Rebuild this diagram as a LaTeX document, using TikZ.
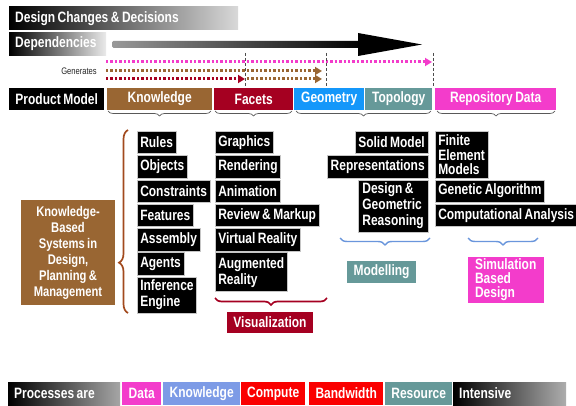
\documentclass[tikz,border=0pt]{standalone}
\usepackage{fontspec}
\setmainfont{Liberation Sans}[FakeStretch=0.8, WordSpace=0.75]
\usetikzlibrary{arrows.meta,decorations.pathreplacing}

\definecolor{kbrown}{HTML}{996633}
\definecolor{fred}{HTML}{A50021}
\definecolor{gblue}{HTML}{1497FA}
\definecolor{tteal}{HTML}{669999}
\definecolor{rmag}{HTML}{F33CCB}
\definecolor{kblue}{HTML}{7D9BE6}
\definecolor{cred}{HTML}{FA0000}
\definecolor{bblue}{HTML}{6A96DC}
\definecolor{sienna}{HTML}{A24A1E}

\newcommand\boxfont{\fontsize{15}{16}\selectfont\bfseries}

\begin{document}
\begin{tikzpicture}[x=1pt,y=-1pt,
  hdr/.style={font=\boxfont, text=white, minimum height=22pt, inner sep=0pt, anchor=west},
  bar/.style={minimum height=23pt, inner sep=0pt, anchor=west},
  barlabel/.style={font=\boxfont, text=white, inner sep=0pt, anchor=west},
  item/.style={fill=black, text=white, font=\boxfont, draw=gray!45, line width=0.5pt,
               inner xsep=3pt, inner ysep=0pt, minimum height=22.5pt, align=left},
  gen/.style={line width=3pt, dash pattern=on 2.4pt off 2pt},
  tip/.style={-{Triangle[length=7pt,width=8pt]}},
  hbrace/.style={draw=black!65, line width=0.7pt, decorate,
                 decoration={brace, mirror, amplitude=5pt}},
  cbrace/.style={line width=1.7pt, decorate, decoration={brace, mirror, amplitude=7pt}},
  guide/.style={densely dashed, draw=black!70, line width=0.6pt}]

\useasboundingbox[fill=white] (0,0) rectangle (576,406);

% ---- top bars ----
\node[bar, left color=black, right color=black!15, minimum width=229pt] (design) at (9,18.5) {};
\node[barlabel] (designlbl) at ([xshift=6pt]design.west) {Design Changes \& Decisions};
\node[bar, left color=black, right color=black!8, minimum width=97pt] (dep) at (9,44) {};
\node[barlabel] (deplbl) at ([xshift=6pt]dep.west) {Dependencies};

% dependency arrow
\coordinate (arrS) at (112,44.5);
\coordinate (arrE) at (422,44.5);
\shade[left color=black!40, right color=black, rounded corners=1.5pt] (112,41) rectangle (362,48);
\fill[black] (358,33) -- (arrE) -- (358,56) -- cycle;

% ---- generates lines ----
\node[font=\fontsize{9.5}{10}\selectfont, text=black!85, inner sep=0pt] (gentxt) at (79,71) {Generates};
\coordinate (g1s) at (106,62);  \coordinate (g1e) at (432,62);
\coordinate (g2s) at (106,71);  \coordinate (g2e) at (322,71);
\coordinate (g3s) at (106,79);  \coordinate (g3m) at (245,79);
\coordinate (g3n) at (247,79);  \coordinate (g3e) at (322,79);
\draw[gen, rmag, tip] (g1s) -- (g1e);
\draw[gen, kbrown, tip] (g2s) -- (g2e);
\draw[gen, kbrown, tip] (g3n) -- (g3e);
\draw[gen, fred, tip] (g3s) -- (g3m);

% ---- product model header ----
\node[hdr, fill=black, minimum width=95pt] (pm) at (9,99) {Product Model};
\node[hdr, fill=kbrown, minimum width=105pt] (hk) at (107,99) {Knowledge};
\node[hdr, fill=fred, minimum width=79pt] (hf) at (214,99) {Facets};
\node[hdr, fill=gblue, minimum width=70pt] (hg) at (294,99) {Geometry};
\node[hdr, fill=tteal, minimum width=67pt] (ht) at (365,99) {Topology};
\node[hdr, fill=rmag, minimum width=121pt] (hr) at (435,99) {Repository Data};

% phase markers
\coordinate (m1) at (245,53); \coordinate (m2) at (326,53); \coordinate (m3) at (433,53);
\draw[guide] (m1) -- (m1 |- hf.north);
\draw[guide] (m2) -- (m2 |- hg.north);
\draw[guide] (m3) -- (m3 |- hr.north);

% header braces
\draw[hbrace] (108,111) -- (211,111);
\draw[hbrace] (215,111) -- (292,111);
\draw[hbrace] (296,111) -- (431,111);
\draw[hbrace] (437,111) -- (555,111);

% ---- knowledge column ----
\node[item, anchor=north west] (rules) at (137,131) {Rules};
\node[item, anchor=north west] (objects) at (137,155.3) {Objects};
\node[item, anchor=north west] (constraints) at (137,179.6) {Constraints};
\node[item, anchor=north west] (features) at (137,203.9) {Features};
\node[item, anchor=north west] (assembly) at (137,228.2) {Assembly};
\node[item, anchor=north west] (agents) at (137,252.5) {Agents};
\node[item, anchor=north west, minimum height=36pt] (inference) at (137,276.8) {Inference\\Engine};

\draw[cbrace, sienna, decoration={amplitude=9pt, aspect=0.725}] (128,130) -- (128,313);

\node[fill=kbrown, text=white, font=\fontsize{14}{16}\selectfont\bfseries, align=center,
      minimum width=94pt, minimum height=105pt, inner sep=0pt] (kbs) at (68,252.5)
  {Knowledge-\\Based\\Systems in\\Design,\\Planning \&\\Management};

% ---- facets column ----
\node[item, anchor=north west] (graphics) at (215,131) {Graphics};
\node[item, anchor=north west] (rendering) at (215,155.3) {Rendering};
\node[item, anchor=north west] (animation) at (215,179.6) {Animation};
\node[item, anchor=north west] (review) at (215,203.9) {Review \& Markup};
\node[item, anchor=north west] (vr) at (215,228.2) {Virtual Reality};
\node[item, anchor=north west, minimum height=39pt] (ar) at (215,252.5) {Augmented\\Reality};

\draw[cbrace, fred] (215,298) -- (327,298);
\node[hdr, fill=fred, minimum width=86pt, minimum height=21pt, anchor=center] (vis) at (270,322.5) {Visualization};

% ---- geometry / topology column ----
\node[item, anchor=north east] (solid) at (428,131) {Solid Model};
\node[item, anchor=north east] (repr) at (428,155.3) {Representations};
\node[item, anchor=north east, minimum height=52.5pt, inner xsep=4pt] (dgr) at (428,179.6) {Design \&\\Geometric\\Reasoning};

\draw[cbrace, bblue, line width=1.4pt] (340,238) -- (430,238);
\node[hdr, fill=tteal, minimum width=69pt, anchor=center] (model) at (381.5,272) {Modelling};

% ---- repository column ----
\node[item, anchor=north west, minimum height=47pt, font=\fontsize{15}{14.5}\selectfont\bfseries] (fem) at (435,131) {Finite\\Element\\Models};
\node[item, anchor=north west] (ga) at (435,179.6) {Genetic Algorithm};
\node[item, anchor=north west] (ca) at (435,203.9) {Computational Analysis};

\draw[cbrace, bblue, line width=1.4pt] (468,238) -- (538,238);
\node[fill=rmag, text=white, font=\fontsize{15}{14}\selectfont\bfseries, align=left,
      text width=62pt, inner xsep=7pt, inner ysep=0pt, minimum height=46pt] (sbd) at (506,280)
  {Simulation\\Based\\Design};

% ---- bottom strip ----
\node[bar, left color=black, right color=black!35, minimum width=112pt] (proc) at (8,393.5) {};
\node[barlabel] (proclbl) at ([xshift=6pt]proc.west) {Processes are};
\node[hdr, fill=rmag, minimum width=39pt, minimum height=23pt] (pdata) at (122,393.5) {Data};
\node[hdr, fill=kblue, minimum width=77pt, minimum height=23pt] (pknow) at (163,393.5) {Knowledge};
\node[hdr, fill=cred, minimum width=64pt, minimum height=23pt] (pcomp) at (241,393.5) {Compute};
\node[hdr, fill=cred, minimum width=74pt, minimum height=23pt] (pband) at (309,393.5) {Bandwidth};
\node[hdr, fill=tteal, minimum width=67pt, minimum height=23pt] (pres) at (385,393.5) {Resource};
\node[bar, left color=black, right color=black!32, minimum width=113pt] (pint) at (453,393.5) {};
\node[barlabel] (pintlbl) at ([xshift=6pt]pint.west) {Intensive};

\end{tikzpicture}
\end{document}
